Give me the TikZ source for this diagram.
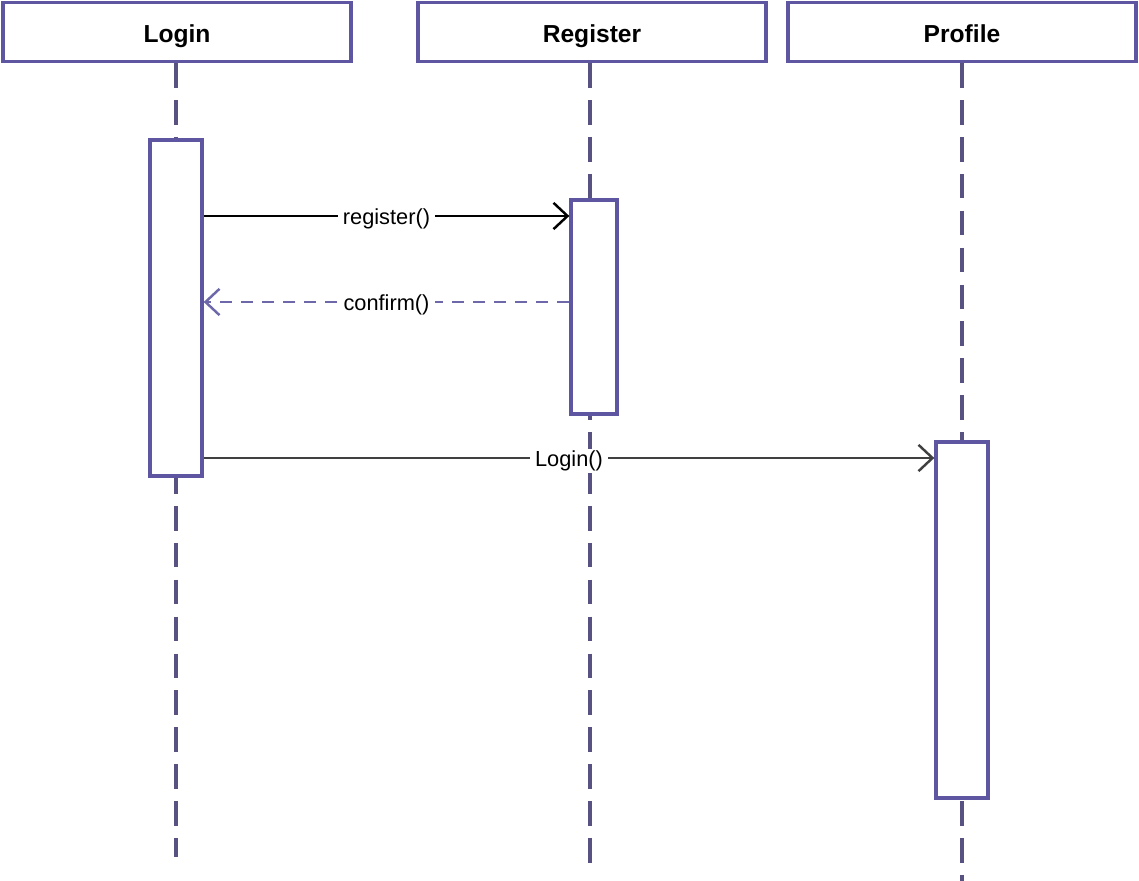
\documentclass[tikz,border=0pt]{standalone}
\usepackage{fontspec}
\setmainfont{Liberation Sans}
\usetikzlibrary{arrows.meta, positioning}
\definecolor{umlpurple}{RGB}{94,86,160}
\definecolor{lifegray}{RGB}{88,82,130}
\definecolor{replyblue}{RGB}{108,104,170}

\begin{document}
\begin{tikzpicture}[
      x=0.02cm, y=-0.02cm,
      head/.style={rectangle, draw=umlpurple, line width=1.9pt, fill=white,
                  minimum width=6.96cm, minimum height=1.18cm,
                  text height=12.5pt, text depth=0pt,
                  font=\fontsize{14}{16}\selectfont\bfseries},
      act/.style={rectangle, draw=umlpurple, line width=1.9pt, fill=white,
                  inner sep=0pt},
      life/.style={draw=lifegray, line width=1.8pt, dash pattern=on 14pt off 7pt},
      msg/.style={-{Straight Barb[length=8pt, width=15pt, line width=1.4pt]},
                  line width=1.2pt, draw=black},
      reply/.style={msg, draw=replyblue, dash pattern=on 7pt off 5pt},
      lbl/.style={fill=white, inner xsep=3pt, inner ysep=1pt, yshift=-1.5pt,
                  font=\fontsize{12.4}{14}\selectfont}
    ]
    \useasboundingbox (0,0) rectangle (1139,881);

    % participants
    \node[head] (login) at (177,32) {Login};
    \node[head] (register) at (592,32) {Register};
    \node[head] (profile) at (962,32) {Profile};

    % lifelines
    \coordinate (loginend) at (176,857);
    \coordinate (registerend) at (590,865);
    \coordinate (profileend) at (962,881);
    \draw[life] (login.south -| loginend) -- (loginend);
    \draw[life] (register.south -| registerend) -- (registerend);
    \draw[life] (profile.south -| profileend) -- (profileend);

    % activations
    \node[act, minimum width=1.04cm, minimum height=6.72cm] (loginact) at (176,308) {};
    \node[act, minimum width=0.92cm, minimum height=4.28cm] (registeract) at (594,307) {};
    \node[act, minimum width=1.04cm, minimum height=7.12cm] (profileact) at (962,620) {};

    % messages
    \coordinate (m1) at (0,216);
    \coordinate (m2) at (0,302);
    \coordinate (m3) at (0,458);
    \draw[msg] (loginact.east |- m1) -- node[lbl] {register()} (registeract.west |- m1);
    \draw[reply] (registeract.west |- m2) -- node[lbl] {confirm()} (loginact.east |- m2);
    \draw[msg, draw=black!75] (loginact.east |- m3) -- node[lbl] {Login()} (profileact.west |- m3);
  \end{tikzpicture}
\end{document}
